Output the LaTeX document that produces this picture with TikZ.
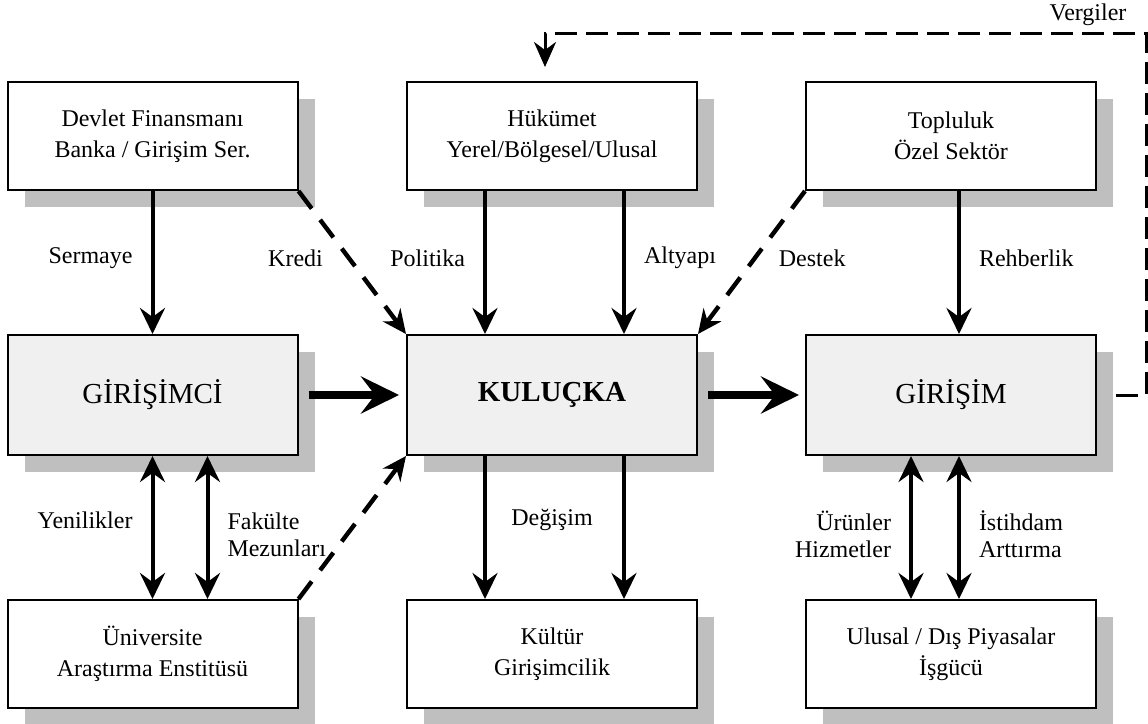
\documentclass[tikz,border=0pt]{standalone}
\usepackage{fontspec}
\setmainfont{Liberation Serif}
\usetikzlibrary{calc,arrows.meta,shadows}

\begin{document}
\begin{tikzpicture}[x=.5pt,y=-.5pt,
            box/.style={draw,line width=1pt,fill=white,minimum width=145pt,minimum height=54pt,
                align=center,font=\fontsize{12}{15.5}\selectfont,
                drop shadow={shadow xshift=8.5pt,shadow yshift=-8.5pt,fill=black!25,opacity=1}},
            bigbox/.style={box,fill=black!6,minimum height=60pt,font=\fontsize{14.5}{17}\selectfont},
            lbl/.style={inner sep=0pt,font=\fontsize{12}{13.5}\selectfont},
            flow/.style={line width=2pt,-{Stealth[length=13pt,width=12.5pt,inset=4.5pt]}},
            twoway/.style={line width=2pt,{Stealth[length=13pt,width=12.5pt,inset=4.5pt]}-{Stealth[length=13pt,width=12.5pt,inset=4.5pt]}},
            bigflow/.style={line width=4pt,-{Stealth[length=19pt,width=18.5pt,inset=7pt]}},
            softflow/.style={line width=2.2pt,dash pattern=on 11pt off 7pt,-{Stealth[length=12pt,width=11pt,inset=4pt]}},
            taxflow/.style={line width=1.5pt,dash pattern=on 11pt off 4.5pt,-{Stealth[length=12.5pt,width=11pt,inset=4pt]}}]

            \useasboundingbox (0,0) rectangle (1148,724);

            % boxes
            \node[box] (fin) at (152.5,136) {Devlet Finansmanı\\Banka / Girişim Ser.};
            \node[box] (huk) at (552,136) {Hükümet\\Yerel/Bölgesel/Ulusal};
            \node[box] (topl) at (951,136) {Topluluk\\Özel Sektör};
            \node[bigbox] (gci) at (152.5,395) {GİRİŞİMCİ};
            \node[bigbox] (kul) at (552,395) {\textbf{KULUÇKA}};
            \node[bigbox] (gir) at (951,395) {GİRİŞİM};
            \node[box] (uni) at (152.5,654) {Üniversite\\Araştırma Enstitüsü};
            \node[box] (kult) at (552,654) {Kültür\\Girişimcilik};
            \node[box] (pya) at (951,654) {Ulusal / Dış Piyasalar\\İşgücü};

            % top row into the middle row
            \draw[flow] (fin.south) -- node[lbl,pos=.47,left=9pt] (serm) {Sermaye} (gci.north);
            \draw[softflow] (fin.south east) -- node[lbl,pos=.47,left=12pt] (kred) {Kredi} (kul.north west);
            \draw[flow] ($(huk.south)+(-67,0)$) -- node[lbl,pos=.47,left=9pt] (pol) {Politika} ($(kul.north)+(-67,0)$);
            \draw[flow] ($(huk.south)+(72,0)$) -- node[lbl,pos=.47,right=9pt] (alt) {Altyapı} ($(kul.north)+(72,0)$);
            \draw[softflow] (topl.south west) -- node[lbl,pos=.47,right=11pt] (dest) {Destek} (kul.north east);
            \draw[flow] ($(topl.south)+(8,0)$) -- node[lbl,pos=.47,right=9pt] (rehb) {Rehberlik} ($(gir.north)+(8,0)$);

            \draw[bigflow] ($(gci.east)+(10,0)$) -- ($(kul.west)+(-7,0)$);
            \draw[bigflow] ($(kul.east)+(10,0)$) -- ($(gir.west)+(-6,0)$);

            % middle row and bottom row
            \draw[twoway] (gci.south) -- node[lbl,pos=.45,left=9pt] (yen) {Yenilikler} (uni.north);
            \draw[twoway] ($(gci.south)+(55,0)$) -- node[lbl,pos=.55,right=9pt,align=left] (fak) {Fakülte\\Mezunları} ($(uni.north)+(55,0)$);
            \draw[softflow] (uni.north east) -- (kul.south west);

            \foreach \dx in {-67,72}
                \draw[flow] ($(kul.south)+(\dx,0)$) -- ($(kult.north)+(\dx,0)$);
            \node[lbl] (deg) at ($(kul.south)!.45!(kult.north)$) {Değişim};

            \draw[twoway] ($(gir.south)+(-40,0)$) -- node[lbl,pos=.55,left=9pt,align=right] (urun) {Ürünler\\Hizmetler} ($(pya.north)+(-40,0)$);
            \draw[twoway] ($(gir.south)+(8,0)$) -- node[lbl,pos=.55,right=9pt,align=left] (isti) {İstihdam\\Arttırma} ($(pya.north)+(8,0)$);

            % taxes back to the government
            \coordinate (taxc) at (1146,33);
            \draw[taxflow] ($(gir.east)+(19,0)$) -| (taxc) -| ($(huk.north)+(-7,-14)$);
            \node[lbl] (verg) at (1088,15) {Vergiler};
\end{tikzpicture}
\end{document}
